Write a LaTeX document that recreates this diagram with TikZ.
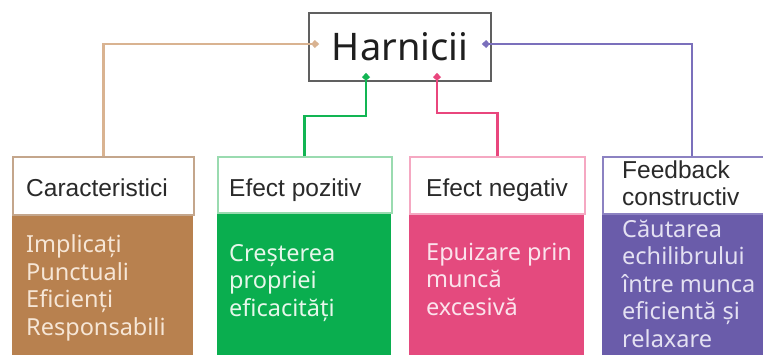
\documentclass[tikz,border=0pt]{standalone}
\usepackage{fontspec}
\setmainfont{Noto Sans}
\newfontfamily\hdrfont{Liberation Sans}
\usetikzlibrary{arrows.meta,calc}
\definecolor{tanbody}{HTML}{B8814F}
\definecolor{tanline}{HTML}{D9B391}
\definecolor{tanborder}{HTML}{C4A68C}
\definecolor{tantext}{HTML}{F6E6D6}
\definecolor{greenbody}{HTML}{0AAE4F}
\definecolor{greenline}{HTML}{12B553}
\definecolor{greenborder}{HTML}{9ADBB0}
\definecolor{greentext}{HTML}{E6F7EA}
\definecolor{pinkbody}{HTML}{E44A7E}
\definecolor{pinkline}{HTML}{E9467D}
\definecolor{pinkborder}{HTML}{F5A8C2}
\definecolor{pinktext}{HTML}{FBE3EC}
\definecolor{purplebody}{HTML}{6A5CAA}
\definecolor{purpleline}{HTML}{7B70BC}
\definecolor{purpleborder}{HTML}{8C82C2}
\definecolor{purpletext}{HTML}{E4E1F2}
\definecolor{titletext}{HTML}{1E1E1E}
\definecolor{hdrtext}{HTML}{2A2A2A}
\tikzset{
  titlebox/.style={draw=gray!75!black, line width=1.5pt, minimum width=182pt, minimum height=68pt,
    inner sep=0pt, text=titletext, font=\fontsize{38}{40}\selectfont},
  hdrbox/.style={draw=#1, line width=1.6pt, fill=white, anchor=north west, inner sep=0pt},
  bodybox/.style={fill=#1, anchor=north west, inner sep=0pt},
  hdrtxt/.style={anchor=base west, inner sep=0pt, align=left, text=hdrtext,
    font=\hdrfont\fontsize{24.5}{27}\selectfont},
  bodytxt/.style={anchor=base west, inner sep=0pt, align=left, text=#1,
    font=\fontsize{23.5}{27.5}\selectfont},
  conn/.style={draw=#1, line width=2.8pt, -{Kite[length=8pt,width=8pt,inset=3.5pt]}},
}
\begin{document}
\begin{tikzpicture}[x=1pt,y=-1pt]
\useasboundingbox (0,0) rectangle (763,354);
\clip (0,0) rectangle (763,354);
% title
\node[titlebox] (h) at (400,47) {Harnicii};
% boxes
\node[bodybox=tanbody, minimum width=181pt, minimum height=145pt] (b1) at (12,213) {};
\node[hdrbox=tanborder, minimum width=181pt, minimum height=58pt] (c1) at (12,156) {};
\node[bodybox=greenbody, minimum width=174pt, minimum height=145pt] (b2) at (217,212) {};
\node[hdrbox=greenborder, minimum width=174pt, minimum height=56pt] (c2) at (217,156) {};
\node[bodybox=pinkbody, minimum width=175pt, minimum height=145pt] (b3) at (409,213) {};
\node[hdrbox=pinkborder, minimum width=175pt, minimum height=57pt] (c3) at (409,156) {};
\node[bodybox=purplebody, minimum width=170pt, minimum height=145pt] (b4) at (602,213) {};
\node[hdrbox=purpleborder, minimum width=170pt, minimum height=57pt] (c4) at (602,156) {};
% header texts (multi-line nodes: base = last line)
\node[hdrtxt] (t1) at (26,196) {Caracteristici};
\node[hdrtxt] (t2) at (229,196) {Efect pozitiv};
\node[hdrtxt] (t3) at (426,196) {Efect negativ};
\node[hdrtxt] (t4) at (622,205) {Feedback\\constructiv};
% body texts
\node[bodytxt=tantext] (x1) at (26,335) {Implicați\\Punctuali\\Eficienți\\Responsabili};
\node[bodytxt=greentext] (x2) at (229,316) {Creșterea\\propriei\\eficacități};
\node[bodytxt=pinktext] (x3) at (426,315) {Epuizare prin\\muncă\\excesivă};
\node[bodytxt=purpletext] (x4) at (622,347) {Căutarea\\echilibrului\\între munca\\eficientă și\\relaxare};
% connector endpoints
\coordinate (hl) at ($(h.west)+(11,-3)$);
\coordinate (hr) at ($(h.east)+(-10,-3)$);
\coordinate (hg) at ($(h.south)+(-34,-9)$);
\coordinate (hp) at ($(h.south)+(37,-9)$);
\coordinate (f4) at ($(c4.north west)+(90,0)$);
% connectors
\draw[conn=tanline] (c1.north) |- (hl);
\draw[conn=purpleline] (f4) |- (hr);
\draw[conn=greenline] (c2.north) -- ++(0,-40) -| (hg);
\draw[conn=pinkline] (c3.north) -- ++(0,-43) -| (hp);
\end{tikzpicture}
\end{document}
